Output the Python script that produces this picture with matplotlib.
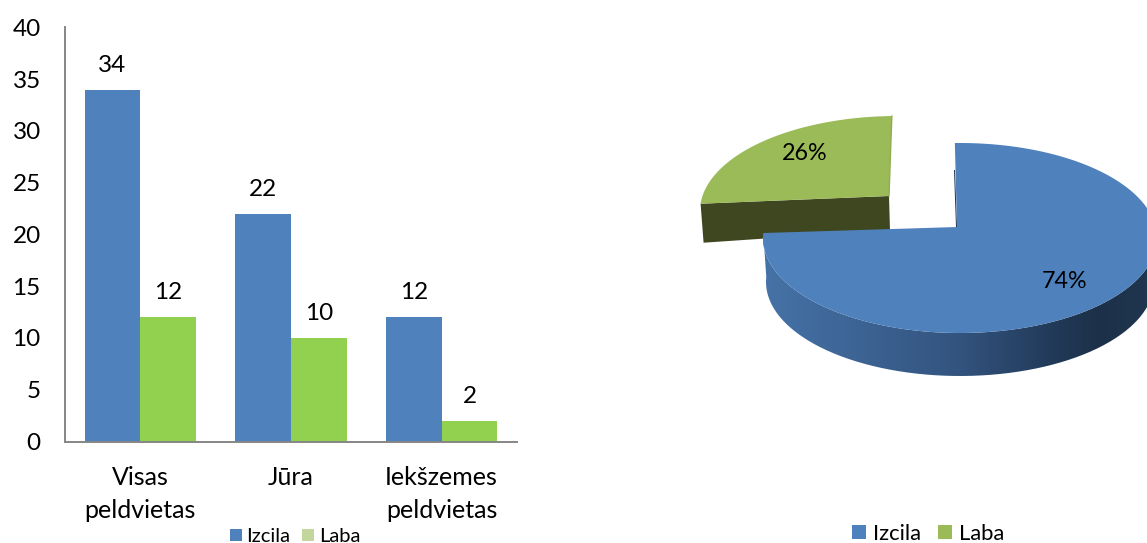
import numpy as np
import matplotlib
matplotlib.use("Agg")
import matplotlib.pyplot as plt
from matplotlib.colors import LinearSegmentedColormap
from matplotlib.patches import PathPatch, Polygon, Rectangle
from matplotlib.path import Path

plt.rcParams['font.family'] = ['Lato', 'DejaVu Sans']

categories = ["Visas\npeldvietas", "Jūra", "Iekšzemes\npeldvietas"]
izcila = [34, 22, 12]
laba = [12, 10, 2]
pie_labels = ["Izcila", "Laba"]
pie_values = [74, 26]

W, H = 1147, 543
blue = "#4f81bd"
bar_green = "#92d050"
legend_green = "#c3d69b"
pie_green = "#9bbb59"
dark_green = "#3f4721"
axis_col = "#868686"

fig = plt.figure(figsize=(W/100, H/100), dpi=100)

# bars, left side
ax = fig.add_axes([65/W, (H-441.5)/H, 452/W, 414/H])
x = np.arange(len(categories))
w = 0.37
b1 = ax.bar(x-w/2, izcila, w, color=blue)
b2 = ax.bar(x+w/2, laba, w, color=bar_green)
ax.bar_label(b1, padding=10, fontsize=17.5, color="black")
ax.bar_label(b2, padding=10, fontsize=17.5, color="black")
ax.set_xlim(-0.5, 2.5)
ax.set_ylim(0, 40)
ax.set_yticks(range(0, 41, 5))
ax.set_xticks(x)
ax.set_xticklabels(categories, fontsize=18, linespacing=1.55)
ax.tick_params(axis='x', length=0, pad=17.5)
ax.tick_params(axis='y', length=0, pad=17.5, labelsize=17.5)
for s in ['top', 'right']:
    ax.spines[s].set_visible(False)
for s in ['left', 'bottom']:
    ax.spines[s].set_color(axis_col)
    ax.spines[s].set_linewidth(1.4)

# pie, drawn by hand on a pixel axes because of the 3d look
pa = fig.add_axes([0, 0, 1, 1], facecolor='none')
pa.axis('off')


def rim(cx, cy, t1, t2, rx=197, ry=95, n=200):
    # t in degrees clockwise from 12 o'clock
    t = np.radians(np.linspace(t1, t2, n))
    return cx + rx*np.sin(t), cy - ry*np.cos(t)


def legend_entry(px, py, size, color, label, tx, fontsize):
    pa.add_patch(Rectangle((px, py), size, size, color=color, lw=0))
    pa.text(tx, py+size/2+1.5, label, fontsize=fontsize, ha='left', va='center', color="black")


split = 360*pie_values[0]/sum(pie_values)
depth = 44

# green slice, exploded up and left
gx, gy = 889, 196
ex, ey = rim(897, 211, split+8, 358.5)
pa.add_patch(Polygon([(ex[0], ey[0]), (gx, gy), (gx+1, gy+34), (ex[0]+3, ey[0]+39)],
                     color=dark_green, lw=0, zorder=1))
pa.add_patch(Polygon(np.r_[[(gx, gy)], np.c_[ex, ey]], color=pie_green, lw=0, zorder=2))
pa.plot([gx, ex[-1]], [gy, ey[-1]], color="#8fae52", lw=1, zorder=2)

# blue slice, the ellipse centre sits a bit off the apex
bx, by = 957, 227
ex, ey = rim(960, 238, -1.5, split+6.6)

# wall, only the front of the rim shows
wx, wy = rim(960, 238, 90, split+6.6)
wx2, wy2 = rim(960, 238+depth, 90, split+6.6, rx=194, ry=94)
wall = np.r_[np.c_[wx, wy], np.c_[wx2[::-1], wy2[::-1]]]
clip = PathPatch(Path(wall), transform=pa.transData, fc='none', ec='none')
pa.add_patch(clip)
grad = np.linspace(0, 1, 256).reshape(1, -1)
cmap = LinearSegmentedColormap.from_list(
    "wall", [(0, "#4673a8"), (0.5, "#33547f"), (0.72, "#233c5c"), (0.85, "#1c3149"), (1, "#20354f")])
im = pa.imshow(grad, extent=(760, 1157, 390, 200), cmap=cmap, aspect='auto', zorder=3)
im.set_clip_path(clip)

pa.add_patch(Polygon([(955, 170), (954, 170), (bx-1, by), (bx, by)], color="#1f344f", lw=0, zorder=3))
pa.add_patch(Polygon(np.r_[[(bx, by)], np.c_[ex, ey]], color=blue, lw=0, zorder=4))

pa.text(1065, 282, f"{pie_values[0]}%", fontsize=16.8, ha='center', va='center', zorder=5, color="black")
pa.text(805, 153, f"{pie_values[1]}%", fontsize=16.8, ha='center', va='center', zorder=5, color="black")

# legends
legend_entry(230, 529, 12, blue, pie_labels[0], 246, 14.5)
legend_entry(302, 529, 12, legend_green, pie_labels[1], 319, 14.5)
legend_entry(852, 525, 14, blue, pie_labels[0], 873, 15.8)
legend_entry(938, 525, 14, pie_green, pie_labels[1], 959, 15.8)

pa.set_xlim(0, W)
pa.set_ylim(H, 0)

fig.savefig("out.png", dpi=100)
